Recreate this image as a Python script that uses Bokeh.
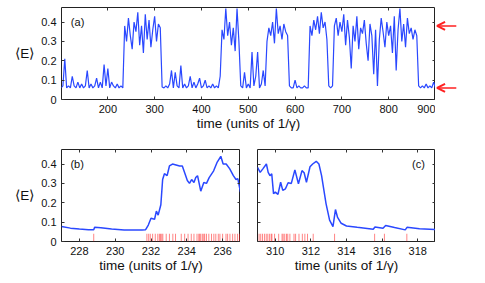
from bokeh.plotting import figure
from bokeh.layouts import column, row
from bokeh.models import (Range1d, FixedTicker, LinearAxis, Label, Arrow,
                          OpenHead, CustomJSTickFormatter)
from bokeh.embed import file_html
from bokeh.resources import INLINE

FONT = "Liberation Sans"
BLUE = "#2a48ff"
RED = "#ff2020"

# ---------------- data ----------------
# panel (a): long trajectory, sampled every 4 time units from 100 to 900
t_a = list(range(100, 901, 4))
E_a = [
    # 100 .. 232 (low)
    0.06, 0.07, 0.21, 0.06, 0.07, 0.06, 0.12, 0.07, 0.06, 0.09,
    0.06, 0.08, 0.06, 0.07, 0.15, 0.06, 0.08, 0.06, 0.07, 0.11,
    0.06, 0.09, 0.06, 0.18, 0.07, 0.16, 0.06, 0.09, 0.07, 0.06,
    0.08, 0.06, 0.07, 0.06,
    # 236 .. 312 (high)
    0.38, 0.30, 0.42, 0.33, 0.26, 0.40, 0.35, 0.45, 0.28, 0.38,
    0.24, 0.44, 0.31, 0.41, 0.27, 0.36, 0.43, 0.30, 0.39, 0.37,
    # 316 .. 440 (low)
    0.065, 0.06, 0.07, 0.06, 0.08, 0.15, 0.06, 0.14, 0.07, 0.06,
    0.175, 0.06, 0.08, 0.06, 0.07, 0.12, 0.06, 0.09, 0.06, 0.08,
    0.11, 0.06, 0.07, 0.10, 0.06, 0.07, 0.06, 0.08, 0.06, 0.07,
    0.06, 0.12,
    # 444 .. 480 (high)
    0.36, 0.31, 0.47, 0.33, 0.40, 0.28, 0.37, 0.25, 0.47, 0.30,
    # 484 .. 536 (low)
    0.07, 0.06, 0.14, 0.06, 0.08, 0.06, 0.245, 0.07, 0.12, 0.245,
    0.06, 0.08, 0.15, 0.07,
    # 540 .. 584 (high)
    0.30, 0.37, 0.33, 0.40, 0.29, 0.47, 0.34, 0.38, 0.31, 0.39,
    0.35, 0.33,
    # 588 .. 628 (low)
    0.07, 0.06, 0.06, 0.10, 0.06, 0.07, 0.06, 0.06, 0.07, 0.06,
    0.06,
    # 632 .. 668 (high)
    0.38, 0.33, 0.41, 0.36, 0.43, 0.34, 0.45, 0.37, 0.40, 0.31,
    # 672 .. 680 (low)
    0.07, 0.06, 0.07,
    # 684 .. 860 (high)
    0.38, 0.42, 0.33, 0.40, 0.35, 0.44, 0.28, 0.41, 0.32, 0.16,
    0.38, 0.30, 0.43, 0.26, 0.37, 0.34, 0.41, 0.29, 0.20, 0.39,
    0.33, 0.13, 0.36, 0.07, 0.31, 0.42, 0.35, 0.27, 0.40, 0.33,
    0.38, 0.24, 0.43, 0.15, 0.36, 0.47, 0.30, 0.39, 0.27, 0.42,
    0.34, 0.37, 0.31, 0.36, 0.33,
    # 864 .. 900 (low)
    0.07, 0.06, 0.07, 0.06, 0.08, 0.06, 0.07, 0.06, 0.09, 0.06,
]
assert len(t_a) == len(E_a)

# levels marked by the arrows
arrow_levels = [0.38, 0.06]

# panel (b): zoom on the jump up
t_b = [227.0, 227.5, 228.0, 228.5, 228.8, 228.85, 229.2, 229.8, 230.5, 231.0,
       231.5, 231.7, 231.85, 232.0, 232.2, 232.3, 232.4, 232.55, 232.65, 232.75,
       232.9, 233.03, 233.2, 233.6, 233.75, 233.9, 234.03, 234.15, 234.27, 234.4,
       234.5, 234.6, 234.78, 234.95, 235.1, 235.25, 235.5, 235.7, 235.9, 236.03,
       236.2, 236.4, 236.6, 236.75, 236.85, 237.0]
E_b = [0.077, 0.069, 0.064, 0.061, 0.061, 0.073, 0.071, 0.064, 0.060, 0.060,
       0.060, 0.061, 0.085, 0.12, 0.115, 0.157, 0.136, 0.19, 0.32, 0.35,
       0.34, 0.39, 0.40, 0.39, 0.39, 0.35, 0.315, 0.30, 0.32, 0.305,
       0.33, 0.34, 0.26, 0.305, 0.30, 0.33, 0.365, 0.41, 0.44, 0.40,
       0.40, 0.375, 0.34, 0.32, 0.325, 0.255]
rug_b = [228.8, 231.77, 231.87, 231.96, 232.09, 232.24, 232.38, 232.47, 232.53,
         232.60, 232.66, 232.85, 233.03, 233.22, 233.37, 233.69, 233.88, 234.07,
         234.25, 234.40, 234.57, 234.67, 234.72, 234.78, 234.87, 234.95, 235.00,
         235.10, 235.23, 235.38, 235.51, 235.62, 235.76, 235.85, 236.0, 236.19,
         236.28, 236.41, 236.56, 236.69, 236.83, 236.94]
assert len(t_b) == len(E_b)

# panel (c): zoom on the jump down
t_c = [309.0, 309.15, 309.3, 309.5, 309.6, 309.7, 309.8, 309.9, 310.0, 310.15,
       310.3, 310.42, 310.57, 310.72, 310.9, 311.1, 311.3, 311.5, 311.62, 311.75,
       311.95, 312.1, 312.3, 312.45, 312.6, 312.85, 313.05, 313.24, 313.38, 313.5,
       313.7, 314.0, 314.6, 315.5, 315.6, 316.05, 316.2, 316.7, 317.3, 317.4,
       318.1, 319.2]
E_c = [0.383, 0.357, 0.375, 0.40, 0.357, 0.34, 0.35, 0.247, 0.255, 0.243,
       0.306, 0.264, 0.272, 0.303, 0.30, 0.37, 0.298, 0.366, 0.355, 0.306,
       0.386, 0.40, 0.414, 0.40, 0.34, 0.196, 0.11, 0.077, 0.165, 0.124,
       0.094, 0.08, 0.073, 0.063, 0.075, 0.068, 0.083, 0.072, 0.06, 0.073,
       0.066, 0.061]
rug_c = [309.09, 309.18, 309.28, 309.39, 309.49, 309.58, 309.68, 309.77, 309.81,
         309.96, 310.19, 310.38, 310.44, 310.53, 310.63, 310.70, 310.82, 311.05,
         311.14, 311.33, 311.52, 311.66, 311.81, 312.13, 313.33, 315.58, 316.13,
         317.39]
assert len(t_c) == len(E_c)

xticks_a = [200, 300, 400, 500, 600, 700, 800, 900]
xticks_b = [228, 230, 232, 234, 236]
xticks_c = [310, 312, 314, 316, 318]
yticks = [0, 0.1, 0.2, 0.3, 0.4]
xlabel = "time (units of 1/\u03b3)"
ylabel = "\u27e8E\u27e9"
panel_tags = ["(a)", "(b)", "(c)"]

YMAX = 0.475
RUG_H = 0.04


def style_axis(ax, ticks, labels=True):
    ax.ticker = FixedTicker(ticks=ticks)
    ax.major_tick_in = 3
    ax.major_tick_out = 0
    ax.minor_tick_in = 0
    ax.minor_tick_out = 0
    ax.axis_line_color = None
    ax.major_tick_line_color = "#333333"
    ax.major_tick_line_width = 1
    if labels:
        ax.major_label_text_font = FONT
        ax.major_label_text_font_size = "11px"
        ax.major_label_text_color = "#111111"
        ax.major_label_standoff = 5
        ax.formatter = CustomJSTickFormatter(code="return String(tick)")
    else:
        ax.formatter = CustomJSTickFormatter(code="return ''")
        ax.major_label_text_font_size = "1px"
        ax.major_label_standoff = 0


def make_panel(xr, fw, bl, bt, bb, xt, show_ylab):
    p = figure(x_range=Range1d(*xr), y_range=Range1d(0, YMAX),
               frame_width=fw, frame_height=92,
               min_border_left=bl, min_border_right=0,
               min_border_top=bt, min_border_bottom=bb,
               output_backend="svg", toolbar_location=None)
    p.grid.visible = False
    p.outline_line_color = "#222222"
    p.outline_line_width = 1
    p.background_fill_color = "white"
    p.border_fill_color = "white"

    xa = p.xaxis[0]
    style_axis(xa, xt, True)
    xa.axis_label = xlabel
    xa.axis_label_text_font = FONT
    xa.axis_label_text_font_size = "13.5px"
    xa.axis_label_text_font_style = "normal"
    xa.axis_label_text_color = "#111111"
    xa.axis_label_standoff = 0

    ya = p.yaxis[0]
    style_axis(ya, yticks, show_ylab)
    if show_ylab:
        ya.axis_label = ylabel
        ya.axis_label_text_font = FONT
        ya.axis_label_text_font_size = "13.5px"
        ya.axis_label_text_font_style = "normal"
        ya.axis_label_text_color = "#111111"
        ya.axis_label_standoff = 4
        try:
            ya.axis_label_orientation = "horizontal"
        except Exception:
            pass

    top = LinearAxis()
    style_axis(top, xt, False)
    p.add_layout(top, "above")
    right = LinearAxis()
    style_axis(right, yticks, False)
    p.add_layout(right, "right")
    return p


# ---------------- panel (a) ----------------
pa = make_panel((101, 900), 374, 61, 7, 42, xticks_a, True)
pa.line(t_a, E_a, line_color=BLUE, line_width=1.2)
pa.add_layout(Label(x=121, y=0.40, text=panel_tags[0], text_font=FONT,
                    text_font_size="11px", text_baseline="middle",
                    text_align="left", text_color="#111111"))

# arrows to the right of panel (a)
pr = figure(x_range=Range1d(0, 1), y_range=pa.y_range,
            frame_width=26, frame_height=92,
            min_border_left=0, min_border_right=0,
            min_border_top=7, min_border_bottom=42,
            x_axis_location=None, y_axis_location=None,
            output_backend="svg", toolbar_location=None)
pr.grid.visible = False
pr.outline_line_color = None
for lv in arrow_levels:
    pr.add_layout(Arrow(x_start=0.8, y_start=lv, x_end=0.06, y_end=lv,
                        line_color=RED, line_width=1.5,
                        end=OpenHead(size=8, line_color=RED, line_width=2)))

# ---------------- panel (b) ----------------
pb = make_panel((227, 237), 179, 61, 8, 30, xticks_b, True)
pb.segment(x0=rug_b, y0=0, x1=rug_b, y1=RUG_H, line_color=RED,
           line_alpha=0.55, line_width=1)
pb.line(t_b, E_b, line_color=BLUE, line_width=1.5)
pb.add_layout(Label(x=227.5, y=0.40, text=panel_tags[1], text_font=FONT,
                    text_font_size="11px", text_baseline="middle",
                    text_align="left", text_color="#111111"))

# ---------------- panel (c) ----------------
pc = make_panel((309, 319), 178, 17, 8, 30, xticks_c, False)
pc.segment(x0=rug_c, y0=0, x1=rug_c, y1=RUG_H, line_color=RED,
           line_alpha=0.55, line_width=1)
pc.line(t_c, E_c, line_color=BLUE, line_width=1.5)
pc.add_layout(Label(x=318.4, y=0.40, text=panel_tags[2], text_font=FONT,
                    text_font_size="11px", text_baseline="middle",
                    text_align="right", text_color="#111111"))

layout = column(row(pa, pr), row(pb, pc))
open("out.html", "w").write(file_html(layout, INLINE))
